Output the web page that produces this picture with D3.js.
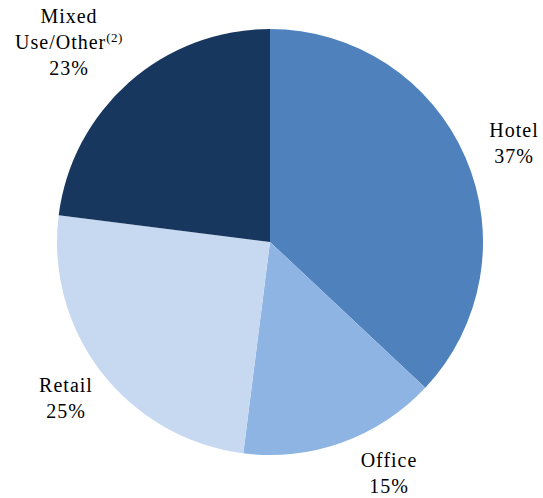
<!DOCTYPE html>
<html>
<head>
<meta charset="utf-8">
<script src="https://cdn.jsdelivr.net/npm/d3@7"></script>
<style>
html,body{margin:0;padding:0;background:#fff;}
svg{display:block;}
</style>
</head>
<body>
<svg id="chart" width="543" height="498"></svg>
<script>
const categories = ["Hotel", "Office", "Retail", "Mixed Use/Other"];
const values = [37, 15, 25, 23];
const colors = ["#4f81bd", "#8eb4e3", "#c6d9f1", "#17375e"];

const svg = d3.select("#chart");
const cx = 270, cy = 242, r = 213;

const pie = d3.pie().sort(null).value(d => d)(values);
const arc = d3.arc().innerRadius(0).outerRadius(r);

const g = svg.append("g").attr("transform", `translate(${cx},${cy})`);
g.selectAll("path").data(pie).join("path")
  .attr("d", arc)
  .attr("fill", (d, i) => colors[i]);

const labelPos = [
  {x: 514, y: 137},
  {x: 389, y: 467},
  {x: 66, y: 392},
  {x: 69, y: 23}
];
const fs = 20, lh = 26;
pie.forEach((d, i) => {
  const p = labelPos[i];
  const t = svg.append("text")
    .attr("text-anchor", "middle")
    .attr("font-family", "'Liberation Serif', 'Times New Roman', Times, serif")
    .attr("font-size", fs)
    .attr("letter-spacing", 1)
    .attr("fill", "#000");
  if (i === 3) {
    t.append("tspan").attr("x", p.x).attr("y", p.y).text("Mixed");
    const l2 = t.append("tspan").attr("x", p.x).attr("y", p.y + lh);
    l2.text("Use/Other");
    l2.append("tspan").attr("font-size", 13).attr("dy", -7).attr("letter-spacing", 0.5).text("(2)");
    t.append("tspan").attr("x", p.x).attr("y", p.y + 2 * lh).text(values[i] + "%");
  } else {
    t.append("tspan").attr("x", p.x).attr("y", p.y).text(categories[i]);
    t.append("tspan").attr("x", p.x).attr("y", p.y + lh).text(values[i] + "%");
  }
});
</script>
</body>
</html>
